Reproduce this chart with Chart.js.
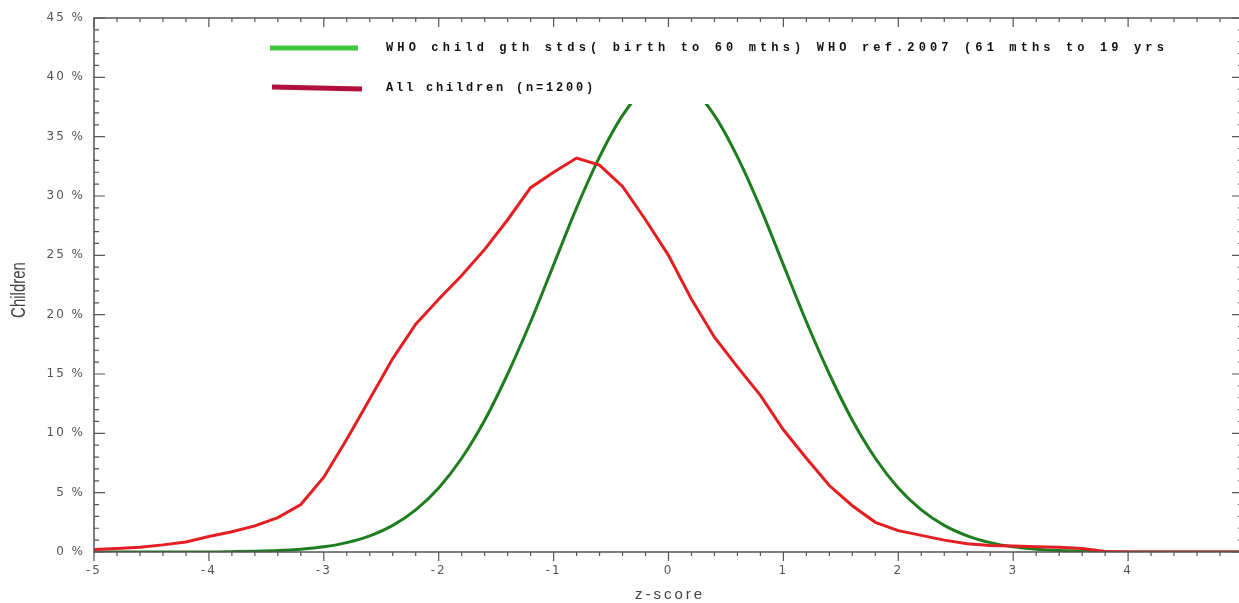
<!DOCTYPE html>
<html>
<head>
<meta charset="utf-8">
<script src="https://cdn.jsdelivr.net/npm/chart.js@4.4.1/dist/chart.umd.min.js"></script>
<style>
html,body{margin:0;padding:0;background:#fff;overflow:hidden}
</style>
</head>
<body>
<canvas id="zChart" width="1239" height="603"></canvas>
<script>
// z-score steps (x axis)
var zScores = [-5,-4.8,-4.6,-4.4,-4.2,-4,-3.8,-3.6,-3.4,-3.2,-3,-2.8,-2.6,-2.4,-2.2,-2,-1.8,-1.6,-1.4,-1.2,-1,-0.8,-0.6,-0.4,-0.2,0,0.2,0.4,0.6,0.8,1,1.2,1.4,1.6,1.8,2,2.2,2.4,2.6,2.8,3,3.2,3.4,3.6,3.8,4,4.2,4.4,4.6,4.8,5];

// WHO reference curve (% of children)
var whoRef = [0,0,0,0,0.01,0.01,0.03,0.06,0.12,0.24,0.44,0.79,1.36,2.24,3.55,5.4,7.9,11.1,15.0,19.4,24.2,29.0,33.3,36.8,39.1,39.9,39.1,36.8,33.3,29.0,24.2,19.4,15.0,11.1,7.9,5.4,3.55,2.24,1.36,0.79,0.44,0.24,0.12,0.06,0.03,0.01,0.01,0,0,0,0];

// all children in the survey (% of children)
var allChildren = [0.2,0.3,0.4,0.6,0.85,1.3,1.7,2.2,2.9,4.0,6.3,9.5,12.9,16.3,19.2,21.3,23.3,25.5,28.0,30.7,32.0,33.2,32.6,30.8,28.0,25.0,21.3,18.1,15.6,13.2,10.3,7.9,5.6,3.9,2.5,1.8,1.4,1.0,0.7,0.55,0.5,0.45,0.4,0.3,0.05,0,0,0,0,0,0];

var seriesLabels = ['WHO child gth stds( birth to 60 mths) WHO ref.2007 (61 mths to 19 yrs', 'All children (n=1200)'];
var xTicks = [-5,-4,-3,-2,-1,0,1,2,3,4,5];
var yTicks = [0,5,10,15,20,25,30,35,40,45];
var xTitle = 'z-score';
var yTitle = 'Children';

function toPoints(vals){
    return zScores.map(function(z,i){ return {x:z, y:vals[i]}; });
}

// the plot runs a few pixels past the right edge of the picture
var plotRight = 1243;
var widenPlot = {
    id:'widenPlot',
    afterLayout:function(chart){
        var xs = chart.scales.x;
        xs.right = plotRight;
        xs.width = plotRight - xs.left;
        xs.configure();
        chart.chartArea.right = plotRight;
        chart.chartArea.width = plotRight - chart.chartArea.left;
    }
};

// frame + tick marks drawn from the scales
var frameTicks = {
    id:'frameTicks',
    beforeDraw:function(chart){
        chart.ctx.letterSpacing = '2px';
    },
    afterDraw:function(chart){
        var ctx = chart.ctx, a = chart.chartArea;
        var xs = chart.scales.x, ys = chart.scales.y;
        ctx.save();
        ctx.letterSpacing = '0px';
        ctx.strokeStyle = '#555';
        ctx.lineWidth = 1.5;
        ctx.strokeRect(a.left, a.top, a.right-a.left, a.bottom-a.top);
        ctx.lineWidth = 1.2;
        ctx.beginPath();
        // y ticks, every 1 %
        for(var k=0;k<yTicks.length;k++){
            for(var m=0;m<5;m++){
                var v = yTicks[k]+m;
                if(v>yTicks[yTicks.length-1]) break;
                var py = ys.getPixelForValue(v);
                var len = m==0 ? 11 : 5;
                ctx.moveTo(a.left, py); ctx.lineTo(a.left+len, py);
                ctx.moveTo(a.right, py); ctx.lineTo(a.right-len, py);
            }
        }
        // x ticks, every 0.2
        for(var i=0;i<xTicks.length;i++){
            for(var n=0;n<5;n++){
                var z = xTicks[i]+n*0.2;
                if(z>xTicks[xTicks.length-1]+0.01) break;
                var px = xs.getPixelForValue(z);
                var l2 = n==0 ? 9 : 4;
                ctx.moveTo(px, a.bottom); ctx.lineTo(px, a.bottom+l2);
                ctx.moveTo(px, a.top); ctx.lineTo(px, a.top+l2);
            }
        }
        ctx.stroke();

        // axis titles
        ctx.fillStyle = '#444';
        ctx.font = '15px "Liberation Sans", Arial, sans-serif';
        ctx.textAlign = 'center';
        ctx.textBaseline = 'middle';
        ctx.letterSpacing = '3px';
        ctx.fillText(xTitle, xs.getPixelForValue(0)+1.5, 595);
        ctx.letterSpacing = '0px';
        ctx.translate(20, 290);
        ctx.scale(1.3, 1);
        ctx.rotate(-Math.PI/2);
        ctx.fillText(yTitle, 0, 0);
        ctx.restore();
    }
};

// boxed legend inside the plot
var boxLegend = {
    id:'boxLegend',
    afterDatasetsDraw:function(chart){
        var ctx = chart.ctx;
        ctx.save();
        ctx.letterSpacing = '0px';
        ctx.fillStyle = '#fff';
        ctx.fillRect(255, 24, 950, 80);
        ctx.lineCap = 'butt';
        ctx.lineWidth = 5;
        ctx.strokeStyle = '#3cc83c';
        ctx.beginPath(); ctx.moveTo(270, 48); ctx.lineTo(358, 48); ctx.stroke();
        ctx.strokeStyle = '#b0103a';
        ctx.beginPath(); ctx.moveTo(272, 87); ctx.lineTo(362, 89); ctx.stroke();
        ctx.fillStyle = '#111';
        ctx.font = 'bold 12px "Liberation Mono", "Courier New", monospace';
        ctx.textBaseline = 'middle';
        var rows = [[seriesLabels[0], 48, 782], [seriesLabels[1], 88, 210]];
        rows.forEach(function(r){
            var step = r[2]/r[0].length;
            for(var c=0;c<r[0].length;c++){
                ctx.fillText(r[0][c], 386 + c*step, r[1]);
            }
        });
        ctx.restore();
    }
};

var ctx = document.getElementById('zChart');
var zChart = new Chart(ctx, {
    type:'line',
    data:{
        datasets:[{
            label: seriesLabels[0],
            data: toPoints(whoRef),
            borderColor:'#1e7d1e',
            borderWidth:3,
            pointRadius:0,
            cubicInterpolationMode:'monotone',
            order:1
        },{
            label: seriesLabels[1],
            data: toPoints(allChildren),
            borderColor:'#e41e22',
            borderWidth:3,
            pointRadius:0,
            tension:0,
            order:0
        }]
    },
    options:{
        responsive:false,
        animation:false,
        layout:{padding:{left:0, right:0, top:18, bottom:0}},
        plugins:{legend:{display:false}, tooltip:{enabled:false}},
        scales:{
            x:{
                type:'linear', min:-5, max:5,
                afterBuildTicks:function(s){ s.ticks = xTicks.map(function(v){return {value:v};}); },
                afterFit:function(s){ s.height = 51; s.paddingLeft = 0; s.paddingRight = 0; },
                grid:{display:false, drawTicks:false},
                border:{display:false},
                ticks:{
                    padding:12, maxRotation:0, autoSkip:false,
                    color:'#555',
                    font:{family:'"DejaVu Sans", sans-serif', size:12},
                    callback:function(v){ return String(v); }
                }
            },
            y:{
                min:0, max:45,
                afterBuildTicks:function(s){ s.ticks = yTicks.map(function(v){return {value:v};}); },
                afterFit:function(s){ s.width = 94; s.paddingTop = 0; s.paddingBottom = 0; },
                grid:{display:false, drawTicks:false},
                border:{display:false},
                ticks:{
                    padding:9, color:'#555',
                    font:{family:'"DejaVu Sans", sans-serif', size:12},
                    callback:function(v){ return v + ' %'; }
                }
            }
        }
    },
    plugins:[widenPlot, frameTicks, boxLegend]
});
</script>
</body>
</html>
